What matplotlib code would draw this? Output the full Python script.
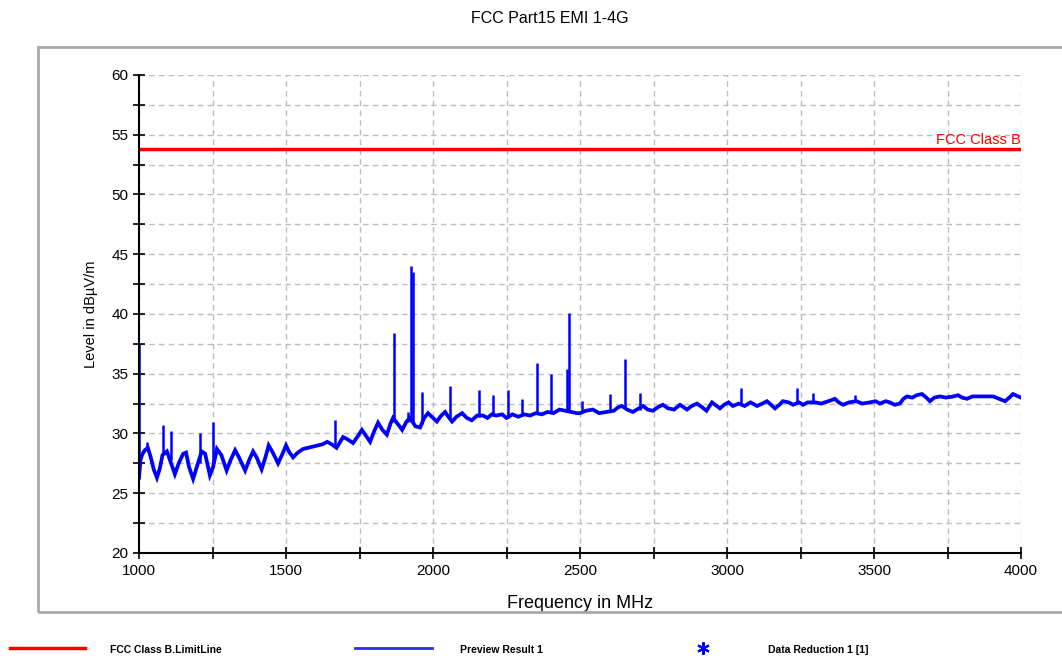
import matplotlib
matplotlib.use('Agg')
import matplotlib.pyplot as plt
from matplotlib.lines import Line2D
from matplotlib.patches import Rectangle
import numpy as np

plt.rcParams['font.family'] = ['Liberation Sans', 'DejaVu Sans']

title = 'FCC Part15 EMI 1-4G'
limit_level = 53.8

# preview result 1 - slowly varying trace (MHz, dBuV/m)
freq = [1000, 1005, 1012, 1020, 1030, 1040, 1050, 1061, 1070, 1080, 1095, 1105, 1122, 1135,
        1150, 1160, 1170, 1184, 1198, 1213, 1225, 1241, 1252, 1265, 1280, 1298, 1312, 1327,
        1340, 1361, 1375, 1388, 1400, 1417, 1430, 1441, 1455, 1473, 1488, 1500, 1512, 1524,
        1540, 1558, 1575, 1592, 1610, 1625, 1640, 1655, 1672, 1694, 1710, 1728, 1745, 1758,
        1772, 1786, 1800, 1813, 1828, 1843, 1855, 1864, 1880, 1895, 1910, 1922, 1940, 1956,
        1970, 1983, 2000, 2013, 2028, 2041, 2052, 2065, 2080, 2099, 2115, 2132, 2150, 2170,
        2185, 2200, 2215, 2235, 2250, 2270, 2290, 2310, 2330, 2350, 2370, 2390, 2410, 2430,
        2450, 2470, 2490, 2500, 2520, 2544, 2565, 2590, 2615, 2630, 2643, 2660, 2680, 2700,
        2715, 2730, 2748, 2765, 2782, 2800, 2820, 2840, 2864, 2880, 2898, 2915, 2930, 2949,
        2960, 2976, 2990, 3005, 3020, 3040, 3060, 3080, 3102, 3120, 3136, 3150, 3163, 3178,
        3190, 3210, 3225, 3245, 3259, 3275, 3300, 3320, 3345, 3367, 3380, 3395, 3415, 3440,
        3460, 3486, 3505, 3520, 3540, 3554, 3570, 3588, 3600, 3612, 3630, 3645, 3663, 3678,
        3690, 3705, 3724, 3745, 3770, 3786, 3800, 3816, 3835, 3850, 3875, 3905, 3925, 3946,
        3960, 3973, 3990, 4000]
level = [26.3, 27.8, 28.3, 28.6, 28.8, 28.0, 27.0, 26.3, 27.0, 28.2, 28.5, 27.8, 26.6, 27.5,
         28.3, 28.4, 27.2, 26.2, 27.3, 28.5, 28.3, 26.5, 27.2, 28.7, 28.2, 26.9, 27.8, 28.6,
         28.0, 26.9, 27.8, 28.5, 28.0, 27.0, 28.0, 29.0, 28.4, 27.5, 28.3, 29.0, 28.4, 28.0,
         28.4, 28.7, 28.8, 28.9, 29.0, 29.1, 29.3, 29.1, 28.8, 29.7, 29.5, 29.2, 29.8, 30.3,
         29.8, 29.3, 30.2, 30.9, 30.3, 29.9, 30.8, 31.3, 30.8, 30.3, 31.0, 31.3, 30.6, 30.5,
         31.3, 31.7, 31.3, 31.0, 31.5, 31.8, 31.4, 31.0, 31.4, 31.7, 31.3, 31.1, 31.5, 31.5,
         31.3, 31.6, 31.5, 31.6, 31.3, 31.6, 31.4, 31.6, 31.5, 31.7, 31.6, 31.8, 31.7, 32.0,
         31.9, 31.8, 31.7, 31.7, 31.9, 32.0, 31.7, 31.8, 31.9, 32.2, 32.3, 32.0, 31.8, 32.1,
         32.3, 32.0, 31.9, 32.2, 32.4, 32.1, 32.0, 32.4, 32.0, 32.3, 32.5, 32.2, 31.9, 32.6,
         32.4, 32.1, 32.4, 32.6, 32.3, 32.5, 32.3, 32.6, 32.3, 32.5, 32.7, 32.4, 32.1, 32.4,
         32.7, 32.6, 32.4, 32.6, 32.4, 32.6, 32.6, 32.5, 32.7, 32.9, 32.6, 32.4, 32.6, 32.7,
         32.5, 32.6, 32.7, 32.5, 32.7, 32.6, 32.4, 32.5, 32.9, 33.1, 33.0, 33.2, 33.3, 33.0,
         32.7, 33.0, 33.1, 33.0, 33.1, 33.2, 33.0, 32.9, 33.1, 33.1, 33.1, 33.1, 32.9, 32.7,
         33.0, 33.3, 33.1, 33.0]

# narrow emissions on top of the trace
spike_freq = [1000, 1027, 1082, 1109, 1207, 1252, 1667, 1867, 1915, 1925, 1932, 1962, 2058,
              2157, 2205, 2255, 2303, 2354, 2401, 2455, 2462, 2507, 2602, 2653, 2704, 3048,
              3238, 3293, 3435]
spike_foot = [26.3, 28.7, 28.2, 27.8, 27.5, 27.2, 28.9, 31.0, 31.0, 31.0, 31.0, 30.8, 31.3,
              31.4, 31.5, 31.3, 31.5, 31.6, 31.7, 31.9, 31.9, 31.8, 31.9, 32.1, 32.0, 32.4,
              32.5, 32.6, 32.6]
spike_peak = [37.5, 29.3, 30.7, 30.2, 30.0, 31.0, 31.1, 38.4, 31.8, 44.0, 43.5, 33.5, 34.0,
              33.6, 33.2, 33.6, 32.9, 35.9, 35.0, 35.4, 40.1, 32.7, 33.3, 36.2, 33.4, 33.8,
              33.8, 33.4, 33.2]

fig = plt.figure(figsize=(10.62, 6.62), dpi=100)
ax = fig.add_axes([0.1309, 0.1647, 0.8305, 0.7221])

# outer frame
fig.add_artist(Rectangle((0.036, 0.076), 0.97, 0.853, transform=fig.transFigure,
                         fill=False, edgecolor='#a8a8a8', linewidth=2))

ax.plot(freq, level, color='#0000ff', linewidth=2.7, solid_joinstyle='miter')
ax.vlines(spike_freq, spike_foot, spike_peak, color='#0000ff', linewidth=1.8)
ax.axhline(limit_level, color='#ff0000', linewidth=2.5)
ax.text(3998, limit_level + 0.2, 'FCC Class B', color='#ff0000', fontsize=10.5,
        ha='right', va='bottom')

ax.set_xlim(1000, 4000)
ax.set_ylim(20, 60)
ax.set_xticks(np.arange(1000, 4001, 500))
ax.set_xticks(np.arange(1000, 4001, 250), minor=True)
ax.set_yticks(np.arange(20, 61, 5))
ax.set_yticks(np.arange(20, 61, 2.5), minor=True)
ax.grid(True, which='both', color='#bdbdbd', linestyle=(0, (4, 3)), linewidth=1)
ax.tick_params(which='both', direction='inout', length=8, width=1.2, labelsize=11)
ax.tick_params(axis='x', pad=4)
for s in ['top', 'right']:
    ax.spines[s].set_visible(False)
for s in ['left', 'bottom']:
    ax.spines[s].set_linewidth(1.5)

ax.set_xlabel('Frequency in MHz', fontsize=13, labelpad=12)
ax.set_ylabel('Level in dBµV/m', fontsize=10.5, labelpad=10)
fig.text(0.518, 0.972, title, fontsize=11.5, ha='center', va='center')

# legend row at the bottom
fig.add_artist(Line2D([0.009, 0.080], [0.021, 0.021], color='#ff0000', linewidth=2.5))
fig.text(0.104, 0.013, 'FCC Class B.LimitLine', fontsize=7.5, fontweight='bold')
fig.add_artist(Line2D([0.334, 0.407], [0.021, 0.021], color='#2828ff', linewidth=2))
fig.text(0.433, 0.013, 'Preview Result 1', fontsize=7.5, fontweight='bold')
fig.add_artist(Line2D([0.662], [0.021], color='#0000ff', marker=(6, 2, 0), markersize=9,
                      markeredgewidth=1.5, linestyle='none'))
fig.text(0.723, 0.013, 'Data Reduction 1 [1]', fontsize=7.5, fontweight='bold')

fig.savefig('out.png', dpi=100)
